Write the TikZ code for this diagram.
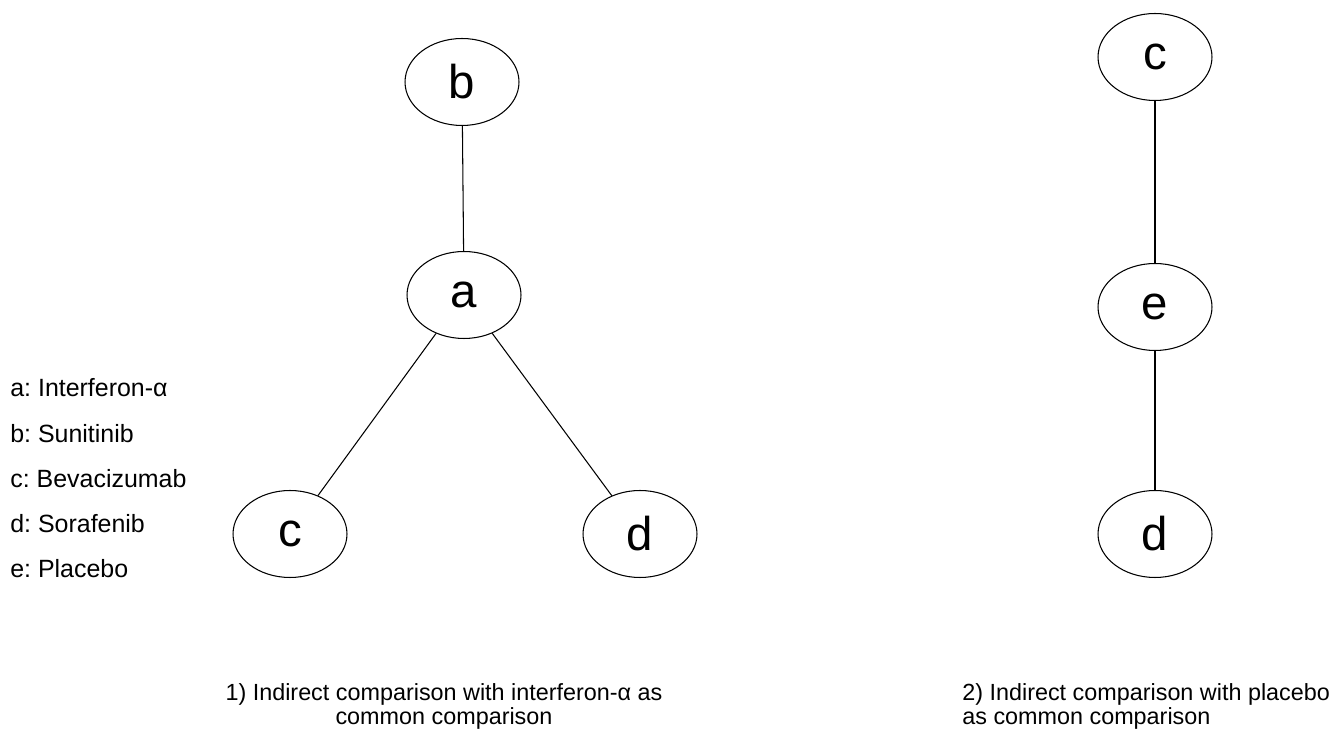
\documentclass[tikz,border=0pt]{standalone}
\usepackage{fontspec}
\setmainfont{Liberation Sans}
\frenchspacing
\usetikzlibrary{shapes.geometric, positioning}
\tikzset{
	drug/.style={draw, ellipse, line width=0.6pt, inner sep=0pt, minimum width=2.28cm, minimum height=1.74cm, font=\fontsize{27}{30}\selectfont},
	link/.style={line width=0.6pt},
	legend/.style={anchor=base west, inner sep=0pt, font=\fontsize{14.2}{17}\selectfont},
	caption/.style={inner sep=0pt, font=\fontsize{13.3}{14}\selectfont}
}
\begin{document}
\begin{tikzpicture}[x=0.02cm, y=-0.02cm]
	\useasboundingbox (0,0) rectangle (1332,732);
	
	% network 1: interferon-alpha as common comparator
	\node[drug] (b1) at (462,82) {b};
	\node[drug] (a1) at (464,295) {a};
	\node[drug] (c1) at (290,534) {c};
	\node[drug] (d1) at (640,534) {d};
	
	\draw[link] (b1) -- (a1);
	\draw[link] (a1) -- (c1);
	\draw[link] (a1) -- (d1);
	
	% network 2: placebo as common comparator
	\node[drug] (c2) at (1155,57) {c};
	\node[drug] (e2) at (1155,307) {e};
	\node[drug] (d2) at (1155,534) {d};
	
	\draw[link] (c2) -- (e2);
	\draw[link] (e2) -- (d2);
	
	% legend
	\node[legend] (la) at (10,397) {a: Interferon-α};
	\node[legend] (lb) at (10,443) {b: Sunitinib};
	\node[legend] (lc) at (10,488) {c: Bevacizumab};
	\node[legend] (ld) at (10,533) {d: Sorafenib};
	\node[legend] (le) at (10,578) {e: Placebo};
	
	% captions
	\node[caption, anchor=north, align=center] (cap1) at (444,683) {1) Indirect comparison with interferon-α as\\common comparison};
	\node[caption, anchor=north west, align=left] (cap2) at (962,683) {2) Indirect comparison with placebo\\as common comparison};
\end{tikzpicture}
\end{document}
